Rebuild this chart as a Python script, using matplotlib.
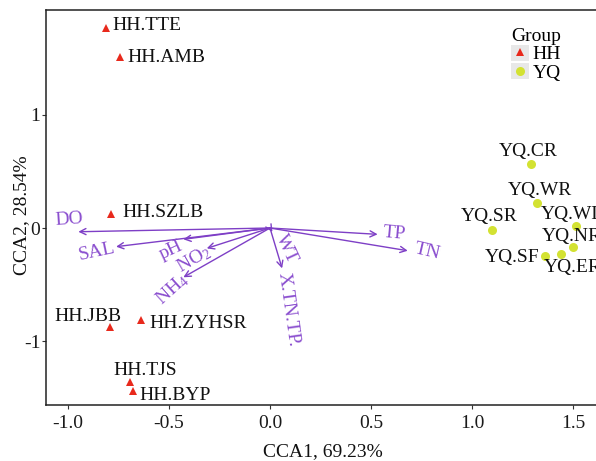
import matplotlib
matplotlib.use("Agg")
import matplotlib.pyplot as plt
from matplotlib.lines import Line2D
from matplotlib.patches import Rectangle
from matplotlib.legend_handler import HandlerTuple

plt.rcParams["font.family"] = ["Liberation Serif", "DejaVu Serif"]
plt.rcParams["mathtext.default"] = "regular"
plt.rcParams["axes.unicode_minus"] = False

# site scores
hh_sites = ["HH.TTE", "HH.AMB", "HH.SZLB", "HH.JBB", "HH.ZYHSR", "HH.TJS", "HH.BYP"]
hh_cca1 = [-0.812, -0.743, -0.789, -0.792, -0.640, -0.693, -0.680]
hh_cca2 = [1.770, 1.513, 0.121, -0.879, -0.814, -1.360, -1.440]

yq_sites = ["YQ.CR", "YQ.WR", "YQ.SR", "YQ.WL", "YQ.NR", "YQ.ER", "YQ.SF"]
yq_cca1 = [1.291, 1.322, 1.098, 1.515, 1.501, 1.439, 1.361]
yq_cca2 = [0.564, 0.219, -0.018, 0.020, -0.165, -0.230, -0.245]

# environmental factor biplot arrows
env_vars = ["DO", "SAL", "pH", "NO$_2$", "NH$_4$", "WT", "X.TN.TP.", "TP", "TN"]
env_cca1 = [-0.949, -0.762, -0.429, -0.313, -0.429, 0.012, 0.060, 0.533, 0.682]
env_cca2 = [-0.033, -0.165, -0.100, -0.180, -0.436, -0.035, -0.357, -0.056, -0.201]

# label placement
hh_offsets = [(6, 2, "left"), (7, 0, "left"), (12, 2, "left"), (-22, 11, "center"),
              (9, -3, "left"), (15, 11, "center"), (7, -5, "left")]
yq_offsets = [(-2, 13, "center"), (3, 13, "center"), (-3, 14, "center"), (-4, 11, "center"),
              (-1, 10, "center"), (-17, -13, "left"), (-5, -2, "right")]
env_label_xy = [(-0.995, 0.071), (-0.856, -0.212), (-0.490, -0.195), (-0.376, -0.274),
                (-0.485, -0.540), (0.084, -0.186), (0.089, -0.717), (0.614, -0.053),
                (0.777, -0.212)]
env_label_rot = [4, 12, 25, 30, 42, -65, -82, -5, -13]

red = "#E8291C"
lime = "#D3E232"
arrow_col = "#7E3FC6"
label_col = "#8B4FCF"

fig = plt.figure(figsize=(5.96, 4.61), dpi=100)
ax = fig.add_axes([46 / 596, 56 / 461, 554 / 596, 395 / 461])

for x, y in zip(env_cca1, env_cca2):
    ax.annotate("", xy=(x, y), xytext=(0, 0),
                arrowprops=dict(arrowstyle="->", color=arrow_col, lw=1.0,
                                mutation_scale=11, shrinkA=0, shrinkB=0))
for name, (lx, ly), rot in zip(env_vars, env_label_xy, env_label_rot):
    ax.text(lx, ly, name, color=label_col, fontsize=14, rotation=rot,
            ha="center", va="center", rotation_mode="anchor")

ax.plot(hh_cca1, hh_cca2, "^", color=red, markersize=6, markeredgewidth=0, zorder=3)
ax.plot(yq_cca1, yq_cca2, "o", color=lime, markersize=6.5, markeredgewidth=0, zorder=3)

for name, x, y, (dx, dy, ha) in zip(hh_sites, hh_cca1, hh_cca2, hh_offsets):
    ax.annotate(name, (x, y), xytext=(dx, dy), textcoords="offset pixels",
                ha=ha, va="center", fontsize=14, color="#111111")
for name, x, y, (dx, dy, ha) in zip(yq_sites, yq_cca1, yq_cca2, yq_offsets):
    ax.annotate(name, (x, y), xytext=(dx, dy), textcoords="offset pixels",
                ha=ha, va="center", fontsize=14, color="#111111")

ax.set_xlim(-1.109, 1.634)
ax.set_ylim(-1.566, 1.929)
ax.set_xticks([-1.0, -0.5, 0.0, 0.5, 1.0, 1.5])
ax.set_xticklabels(["-1.0", "-0.5", "0.0", "0.5", "1.0", "1.5"])
ax.set_yticks([-1, 0, 1])
ax.set_yticklabels(["-1", "0", "1"])
ax.tick_params(direction="out", length=3, width=0.8, colors="#333333",
               labelsize=14, labelcolor="#1a1a1a")
ax.tick_params(axis="x", pad=4)
ax.tick_params(axis="y", pad=1)
for side in ["left", "bottom", "top"]:
    ax.spines[side].set_linewidth(1.1)
    ax.spines[side].set_color("#222222")
ax.spines["right"].set_visible(False)

ax.set_xlabel("CCA1, 69.23%", fontsize=14, color="#111111", labelpad=8)
ax.set_ylabel("CCA2, 28.54%", fontsize=14, color="#111111")
ax.yaxis.set_label_coords(-0.028, 0.48)

# legend keys on a grey square, as in ggplot
key_bg = dict(facecolor="#E8E8E8", edgecolor="none")
handles = [
    (Rectangle((0, 0), 1, 1, **key_bg), Line2D([], [], marker="^", color=red, ls="none", markersize=6, markeredgewidth=0)),
    (Rectangle((0, 0), 1, 1, **key_bg), Line2D([], [], marker="o", color=lime, ls="none", markersize=6.5, markeredgewidth=0)),
]
leg = ax.legend(handles, ["HH", "YQ"], title="Group", loc="upper left",
                bbox_to_anchor=(0.815, 0.99), frameon=False, fontsize=14,
                title_fontsize=14, handlelength=0.9, handleheight=0.9,
                handletextpad=0.2, labelspacing=0.0, borderpad=0.2,
                handler_map={tuple: HandlerTuple(ndivide=1)})

fig.savefig("out.png", dpi=100)
